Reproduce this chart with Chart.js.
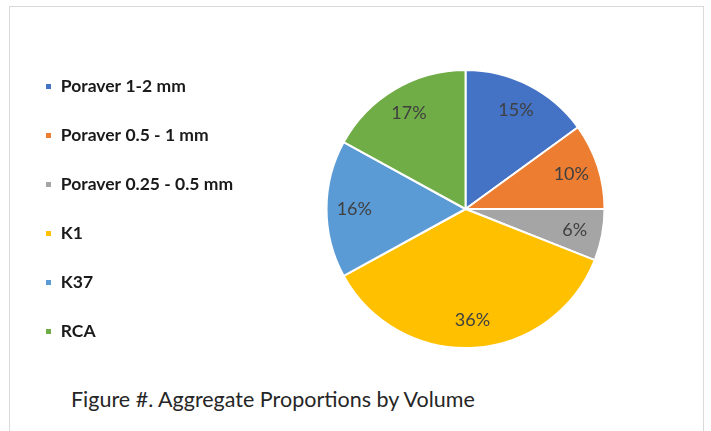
<!DOCTYPE html>
<html>
<head>
<meta charset="utf-8">
<script src="https://cdn.jsdelivr.net/npm/chart.js@4.4.1/dist/chart.umd.min.js"></script>
<style>
  html, body { margin: 0; padding: 0; background: #fff; }
  body { width: 711px; height: 431px; overflow: hidden; position: relative; }
  #frame {
    position: absolute; left: 9px; top: 6px;
    width: 693px; height: 440px;
    border: 1px solid #d9d9d9;
  }
  #chartBox { position: absolute; left: 0; top: 0; width: 693px; height: 373px; }
  #caption {
    position: absolute; left: 61px; top: 379px;
    font-family: Lato, "Open Sans", sans-serif; font-size: 21.5px; line-height: 26px;
    color: #262626; white-space: nowrap;
  }
</style>
</head>
<body>
<div id="frame">
  <div id="chartBox"><canvas id="aggChart"></canvas></div>
  <div id="caption">Figure #. Aggregate Proportions by Volume</div>
</div>
<script>
const categories = ["Poraver 1-2 mm", "Poraver 0.5 - 1 mm", "Poraver 0.25 - 0.5 mm", "K1", "K37", "RCA"];
const shares = [15, 10, 6, 36, 16, 17];
const sliceColors = ["#4472C4", "#ED7D31", "#A5A5A5", "#FFC000", "#5B9BD5", "#70AD47"];

// percent labels inside each slice
const sliceLabels = {
  id: "sliceLabels",
  afterDatasetsDraw(chart) {
    const ctx = chart.ctx;
    const meta = chart.getDatasetMeta(0);
    const data = chart.data.datasets[0].data;
    const total = data.reduce((a, b) => a + b, 0);
    ctx.save();
    ctx.font = "18px Lato, 'Open Sans', sans-serif";
    ctx.fillStyle = "#404040";
    ctx.textAlign = "center";
    ctx.textBaseline = "middle";
    meta.data.forEach((arc, i) => {
      const p = arc.getProps(["x", "y", "startAngle", "endAngle", "outerRadius"], true);
      const mid = (p.startAngle + p.endAngle) / 2;
      const r = p.outerRadius * 0.8;
      const pct = Math.round(data[i] / total * 100) + "%";
      ctx.fillText(pct, p.x + Math.cos(mid) * r, p.y + Math.sin(mid) * r);
    });
    ctx.restore();
  }
};

const renderChart = () => {
  var ctx = document.getElementById("aggChart").getContext("2d");
  var myChart = new Chart(ctx, {
    type: "pie",
    data: {
      labels: categories,
      datasets: [
        {
          data: shares,
          backgroundColor: sliceColors,
          borderColor: "#ffffff",
          borderWidth: 2,
          radius: 139,
        },
      ],
    },
    options: {
      responsive: true,
      maintainAspectRatio: false,
      devicePixelRatio: 1,
      animation: false,
      layout: { padding: { top: 31, right: 15, bottom: 0, left: 3.5 } },
      plugins: {
        tooltip: { enabled: false },
        legend: {
          position: "left",
          align: "center",
          labels: {
            boxWidth: 7,
            boxHeight: 7,
            padding: 31.5,
            color: "#1a1a1a",
            font: { family: "Lato, 'Open Sans', sans-serif", size: 17.5, weight: "bold" },
          },
        },
      },
    },
    plugins: [sliceLabels],
  });
};

renderChart();
</script>
</body>
</html>
